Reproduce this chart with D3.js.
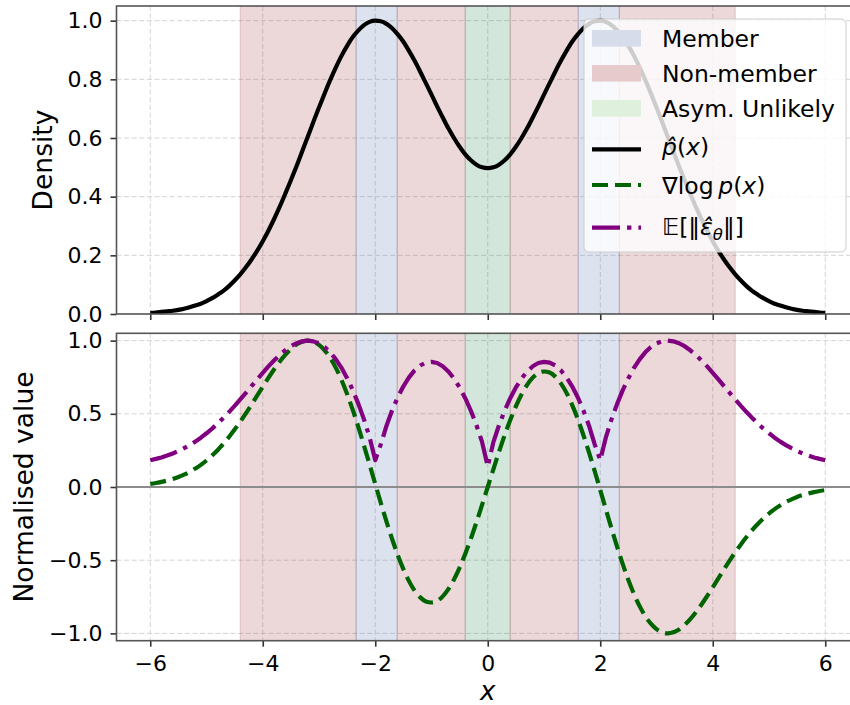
<!DOCTYPE html>
<html><head><meta charset="utf-8">
<script src="https://cdn.jsdelivr.net/npm/d3@7"></script>
<style>
body{margin:0;background:#fff;}
svg{display:block;font-family:"DejaVu Sans",sans-serif;}
</style></head><body>
<svg id="chart" width="850" height="705"></svg>
<script>
// ---------------- data ----------------
const xGrid = d3.range(-60, 61).map(i => i / 10);   // sample positions -6 .. 6
const densityValues = [
 0.004,0.005,0.007,0.009,0.011,0.014,0.018,0.023,0.029,0.035,
 0.044,0.054,0.066,0.079,0.095,0.114,0.135,0.159,0.186,0.215,
 0.248,0.284,0.323,0.365,0.410,0.456,0.504,0.554,0.604,0.655,
 0.704,0.752,0.798,0.841,0.880,0.914,0.944,0.967,0.985,0.996,
 1.000,0.998,0.989,0.974,0.953,0.928,0.897,0.863,0.826,0.787,
 0.748,0.708,0.670,0.633,0.600,0.570,0.544,0.524,0.509,0.500,
 0.497,
 0.500,0.509,0.524,0.544,0.570,0.600,0.633,0.670,0.708,0.748,
 0.787,0.826,0.863,0.897,0.928,0.953,0.974,0.989,0.998,1.000,
 0.996,0.985,0.967,0.944,0.914,0.880,0.841,0.798,0.752,0.704,
 0.655,0.604,0.554,0.504,0.456,0.410,0.365,0.323,0.284,0.248,
 0.215,0.186,0.159,0.135,0.114,0.095,0.079,0.066,0.054,0.044,
 0.035,0.029,0.023,0.018,0.014,0.011,0.009,0.007,0.005,0.004];
const scoreValues = [
 0.021,0.027,0.035,0.044,0.055,0.068,0.084,0.103,0.126,0.151,
 0.181,0.215,0.253,0.295,0.342,0.392,0.446,0.503,0.563,0.624,
 0.685,0.745,0.803,0.856,0.903,0.943,0.974,0.993,1.000,0.993,
 0.971,0.934,0.882,0.814,0.731,0.635,0.527,0.409,0.283,0.153,
 0.021,-0.110,-0.236,-0.355,-0.465,-0.561,-0.643,-0.708,-0.754,-0.782,
 -0.789,-0.778,-0.747,-0.698,-0.632,-0.551,-0.457,-0.353,-0.240,-0.121,
 0.000,
 0.121,0.240,0.353,0.457,0.551,0.632,0.698,0.747,0.778,0.789,
 0.782,0.754,0.708,0.643,0.561,0.465,0.355,0.236,0.110,-0.021,
 -0.153,-0.283,-0.409,-0.527,-0.635,-0.731,-0.814,-0.882,-0.934,-0.971,
 -0.993,-1.000,-0.993,-0.974,-0.943,-0.903,-0.856,-0.803,-0.745,-0.685,
 -0.624,-0.563,-0.503,-0.446,-0.392,-0.342,-0.295,-0.253,-0.215,-0.181,
 -0.151,-0.126,-0.103,-0.084,-0.068,-0.055,-0.044,-0.035,-0.027,-0.021];
const epsNormValues = [
 0.183,0.192,0.202,0.215,0.229,0.246,0.265,0.286,0.310,0.337,
 0.367,0.399,0.434,0.472,0.512,0.554,0.598,0.643,0.689,0.735,
 0.780,0.824,0.864,0.902,0.934,0.962,0.982,0.995,1.000,0.995,
 0.981,0.956,0.920,0.872,0.814,0.743,0.662,0.568,0.462,0.339,
 0.183,0.293,0.419,0.524,0.613,0.688,0.749,0.797,0.830,0.850,
 0.855,0.847,0.825,0.789,0.741,0.680,0.607,0.521,0.422,0.306,
 0.140,
 0.306,0.422,0.521,0.607,0.680,0.741,0.789,0.825,0.847,0.855,
 0.850,0.830,0.797,0.749,0.688,0.613,0.524,0.419,0.293,0.183,
 0.339,0.462,0.568,0.662,0.743,0.814,0.872,0.920,0.956,0.981,
 0.995,1.000,0.995,0.982,0.962,0.934,0.902,0.864,0.824,0.780,
 0.735,0.689,0.643,0.598,0.554,0.512,0.472,0.434,0.399,0.367,
 0.337,0.310,0.286,0.265,0.246,0.229,0.215,0.202,0.192,0.183];

const bandStarts = [-4.4, -2.34, -1.61, -0.4, 0.4, 1.61, 2.34];
const bandEnds   = [-2.34, -1.61, -0.4, 0.4, 1.61, 2.34, 4.4];
const bandKinds  = ['Non-member','Member','Non-member','Asym. Unlikely','Non-member','Member','Non-member'];

const xTicks = [-6, -4, -2, 0, 2, 4, 6];
const densityTicks = [0, 0.2, 0.4, 0.6, 0.8, 1.0];
const normTicks = [-1, -0.5, 0, 0.5, 1];
const patchLabels = ['Member', 'Non-member', 'Asym. Unlikely'];

// ---------------- styles ----------------
const bandColor = {'Member':'rgb(80,110,170)','Non-member':'rgb(160,60,65)','Asym. Unlikely':'rgb(35,130,80)'};
const swatchColor = {'Member':'#d6dcea','Non-member':'#e6cacc','Asym. Unlikely':'#dff0dc'};
const LW = 4.2;
const greenDash = '16,7';
const purpleDash = '28,7,4.4,7';

const svg = d3.select('#chart');
svg.append('rect').attr('width',850).attr('height',705).attr('fill','#fff');

const L = 116.5, R = 859;
const x = d3.scaleLinear().domain([-6.6, 6.6]).range([L, R]);

const panels = [
  {id:'top', top:6, bottom:314, y:d3.scaleLinear().domain([0,1.05]).range([314,6]), ticks:densityTicks, label:'Density', labelX:52, showX:false},
  {id:'bot', top:333.3, bottom:640.7, y:d3.scaleLinear().domain([-1.05,1.05]).range([640.7,333.3]), ticks:normTicks, label:'Normalised value', labelX:33, showX:true}
];

const defs = svg.append('defs');
panels.forEach(p => {
  defs.append('clipPath').attr('id','clip-'+p.id).append('rect')
    .attr('x',L).attr('y',p.top).attr('width',R-L).attr('height',p.bottom-p.top);
});

panels.forEach(p => {
  const g = svg.append('g').attr('clip-path','url(#clip-'+p.id+')');
  // grid
  g.selectAll('line.gx').data(xTicks).join('line')
    .attr('x1',d=>x(d)).attr('x2',d=>x(d)).attr('y1',p.top).attr('y2',p.bottom)
    .attr('stroke','#d4d4d4').attr('stroke-width',1).attr('stroke-dasharray','5,2.6');
  g.selectAll('line.gy').data(p.ticks).join('line')
    .attr('x1',L).attr('x2',R).attr('y1',d=>p.y(d)).attr('y2',d=>p.y(d))
    .attr('stroke','#d4d4d4').attr('stroke-width',1).attr('stroke-dasharray','5,2.6');
  // bands
  g.selectAll('rect.band').data(bandStarts.map((s,i)=>({s, e:bandEnds[i], k:bandKinds[i]}))).join('rect')
    .attr('x',d=>x(d.s)).attr('width',d=>x(d.e)-x(d.s))
    .attr('y',p.top-2).attr('height',p.bottom-p.top+4)
    .attr('fill',d=>bandColor[d.k]).attr('fill-opacity',0.2)
    .attr('stroke',d=>bandColor[d.k]).attr('stroke-opacity',0.2).attr('stroke-width',1.2);
});

// curves
const pts = (vals) => xGrid.map((xv,i)=>[xv, vals[i]]);
const gTop = svg.append('g').attr('clip-path','url(#clip-top)');
gTop.append('path').datum(pts(densityValues))
  .attr('d', d3.line().x(d=>x(d[0])).y(d=>panels[0].y(d[1])).curve(d3.curveMonotoneX))
  .attr('fill','none').attr('stroke','#000').attr('stroke-width',LW);

const gBot = svg.append('g').attr('clip-path','url(#clip-bot)');
gBot.append('line').attr('x1',L).attr('x2',R).attr('y1',panels[1].y(0)).attr('y2',panels[1].y(0))
  .attr('stroke','#8c8c8c').attr('stroke-width',2);
gBot.append('path').datum(pts(scoreValues))
  .attr('d', d3.line().x(d=>x(d[0])).y(d=>panels[1].y(d[1])).curve(d3.curveMonotoneX))
  .attr('fill','none').attr('stroke','#006400').attr('stroke-width',LW).attr('stroke-dasharray',greenDash);
gBot.append('path').datum(pts(epsNormValues))
  .attr('d', d3.line().x(d=>x(d[0])).y(d=>panels[1].y(d[1])).curve(d3.curveLinear))
  .attr('fill','none').attr('stroke','#800080').attr('stroke-width',LW).attr('stroke-dasharray',purpleDash)
  .attr('stroke-linejoin','round');

// axes, spines, labels
const styleAxis = g => {
  g.attr('font-family','DejaVu Sans').attr('font-size',22);
  g.select('.domain').remove();
  g.selectAll('.tick line').attr('stroke','#333').attr('stroke-width',1.6);
  g.selectAll('.tick text').attr('fill','#000');
};
panels.forEach(p => {
  svg.append('g').attr('transform',`translate(${L},0)`)
    .call(d3.axisLeft(p.y).tickValues(p.ticks).tickSize(6).tickPadding(8).tickFormat(d3.format('.1f')))
    .call(styleAxis);
  svg.append('g').attr('transform',`translate(0,${p.bottom})`)
    .call(d3.axisBottom(x).tickValues(xTicks).tickSize(6).tickPadding(9)
      .tickFormat(p.showX ? d3.format('d') : () => ''))
    .call(styleAxis);
  svg.append('rect').attr('x',L).attr('y',p.top).attr('width',R-L).attr('height',p.bottom-p.top)
    .attr('fill','none').attr('stroke','#555').attr('stroke-width',1.6);
  svg.append('text').attr('transform',`translate(${p.labelX},${(p.top+p.bottom)/2}) rotate(-90)`)
    .attr('text-anchor','middle').attr('font-size',26.5).attr('fill','#000').text(p.label);
});
svg.append('text').attr('x',(L+R)/2).attr('y',700).attr('text-anchor','middle')
  .attr('font-size',26).attr('font-style','italic').text('x');

// legend
const lg = svg.append('g');
lg.append('rect').attr('x',584).attr('y',19).attr('width',262).attr('height',233).attr('rx',5)
  .attr('fill','#fff').attr('fill-opacity',0.8).attr('stroke','#cccccc').attr('stroke-width',1);
const rowY = [38.3, 73.3, 108.3, 149.3, 185, 227.7];
const baseY = [46.5, 81.5, 116.5, 155, 194, 235];
const sx0 = 592, sx1 = 641, tx = 662;
patchLabels.forEach((lab,i) => {
  lg.append('rect').attr('x',sx0).attr('y',rowY[i]-8.3).attr('width',sx1-sx0).attr('height',16.6)
    .attr('fill',swatchColor[lab]);
  lg.append('text').attr('x',tx).attr('y',baseY[i]).attr('font-size',23.5).text(lab);
});
const lineRows = [
  {stroke:'#000', dash:null},
  {stroke:'#006400', dash:greenDash},
  {stroke:'#800080', dash:purpleDash}
];
lineRows.forEach((r,j) => {
  const yy = rowY[3+j];
  const ln = lg.append('line').attr('x1',sx0).attr('x2',sx1).attr('y1',yy).attr('y2',yy)
    .attr('stroke',r.stroke).attr('stroke-width',LW);
  if (r.dash) ln.attr('stroke-dasharray',r.dash);
});
// p-hat(x)
let t = lg.append('text').attr('x',tx).attr('y',baseY[3]).attr('font-size',23.5);
t.append('tspan').attr('font-style','italic').text('p\u0302');
t.append('tspan').text('(');
t.append('tspan').attr('font-style','italic').text('x');
t.append('tspan').text(')');
// grad log p(x)
t = lg.append('text').attr('x',tx).attr('y',baseY[4]).attr('font-size',23.5);
t.append('tspan').text('\u2207log\u2009');
t.append('tspan').attr('font-style','italic').text('p');
t.append('tspan').text('(');
t.append('tspan').attr('font-style','italic').text('x');
t.append('tspan').text(')');
// E[||eps_theta||]
t = lg.append('text').attr('x',tx).attr('y',baseY[5]).attr('font-size',23.5);
t.append('tspan').text('\uD835\uDD3C[\u2016');
t.append('tspan').attr('font-style','italic').text('\u03B5\u0302');
t.append('tspan').attr('font-style','italic').attr('font-size',16.5).attr('dy',5).text('\u03B8');
t.append('tspan').attr('dy',-5).text('\u2016]');
</script>
</body></html>
